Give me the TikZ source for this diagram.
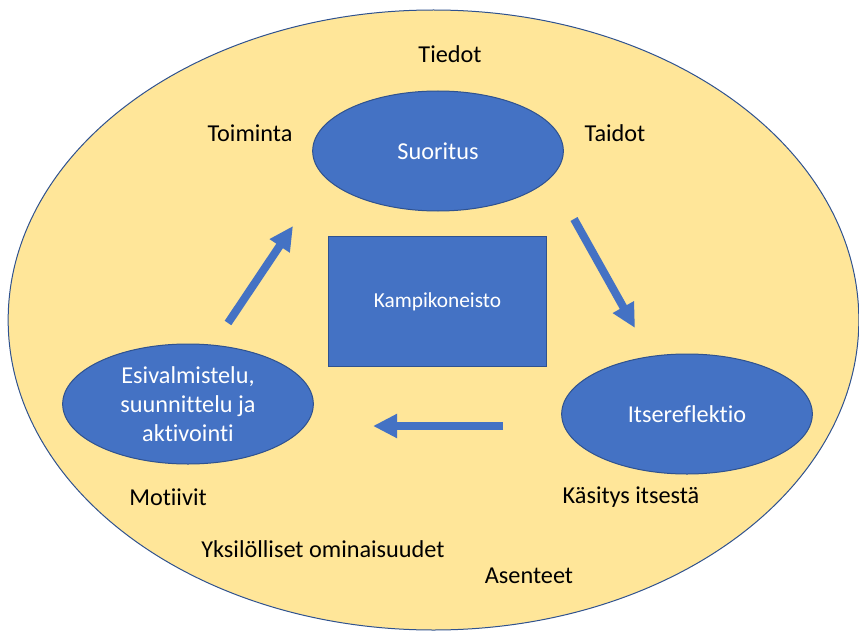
\documentclass[tikz,border=0pt]{standalone}
\usepackage{fontspec}
\setmainfont{Carlito}[Ligatures=NoCommon]
\usetikzlibrary{shapes.geometric,arrows.meta}
\definecolor{goldfill}{HTML}{FFE699}
\definecolor{blueshape}{HTML}{4472C4}
\definecolor{blueline}{HTML}{2F528F}
\tikzset{
  outer/.style={ellipse, draw=blueline, line width=0.75pt, fill=goldfill, inner sep=0pt,
    minimum width=638pt, minimum height=465pt},
  phase/.style={ellipse, draw=blueline, line width=0.75pt, fill=blueshape, inner sep=0pt,
    minimum width=188pt, minimum height=90pt, text=white, align=center,
    font=\fontsize{18.2}{21.5}\selectfont},
  core/.style={rectangle, draw=blueline, line width=0.75pt, fill=blueshape, inner sep=0pt,
    minimum width=164pt, minimum height=98pt, text=white, font=\fontsize{16}{19}\selectfont},
  lbl/.style={inner sep=0pt, font=\fontsize{18.2}{21.5}\selectfont, text=black},
  flow/.style={draw=blueshape, line width=6pt,
    -{Triangle[length=18pt, width=17pt]}, shorten >=0pt}
}
\begin{document}
\begin{tikzpicture}[x=0.75pt, y=-0.75pt]
  \useasboundingbox (0,0) rectangle (859,631);
  % surrounding context
  \node[outer] (ctx) at (433.5,320) {};
  % cycle phases and the centre block
  \node[phase] (suor) at (438,151) {Suoritus};
  \node[phase] (esiv) at (188,404) {Esivalmistelu,\\suunnittelu ja\\aktivointi};
  \node[phase] (itse) at (687,414) {Itsereflektio};
  \node[core] (kamp) at (437.5,301.5) {Kampikoneisto};
  % surrounding factors
  \node[lbl] (tiedot) at (450,54) {Tiedot};
  \node[lbl] (toim) at (250,133) {Toiminta};
  \node[lbl] (taid) at (615,133) {Taidot};
  \node[lbl] (moti) at (168,497) {Motiivit};
  \node[lbl] (kasi) at (631,497) {Käsitys itsestä};
  \node[lbl] (yksi) at (323,549) {Yksilölliset ominaisuudet};
  \node[lbl] (asen) at (529,576) {Asenteet};
  % arrow end points between the phases
  \coordinate (a1s) at (228,323);
  \coordinate (a1e) at (293,226);
  \coordinate (a2s) at (574,219);
  \coordinate (a2e) at (635,328);
  \coordinate (a3s) at (503,426);
  \coordinate (a3e) at (373,426);
  \draw[flow] (a1s) -- (a1e);
  \draw[flow] (a2s) -- (a2e);
  \draw[flow] (a3s) -- (a3e);
\end{tikzpicture}
\end{document}
